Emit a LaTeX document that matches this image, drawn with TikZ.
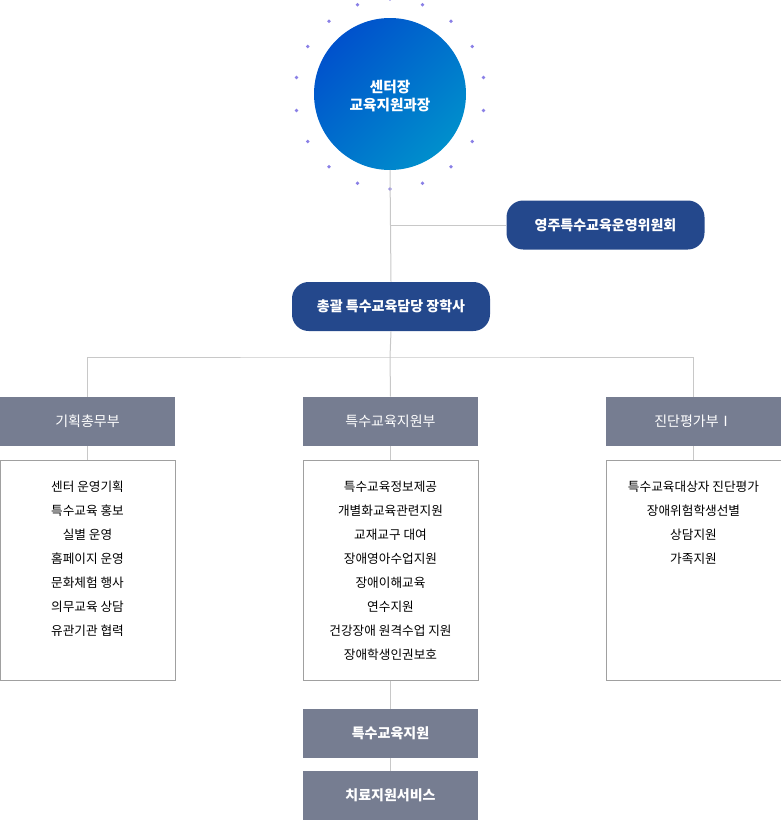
\documentclass[tikz,border=0pt]{standalone}
\usepackage{fontspec}
\setmainfont{Noto Sans CJK KR}
\usetikzlibrary{positioning}
\definecolor{pillblue}{HTML}{24488C}
\definecolor{headgray}{HTML}{767D91}
\definecolor{linegray}{HTML}{C8C8C8}
\definecolor{dotviolet}{HTML}{8A80E6}
\tikzset{
  pill/.style={fill=pillblue, text=white, rounded corners=12.5pt, minimum height=36.75pt, font=\bfseries\fontsize{10.5}{12}\selectfont},
  headbox/.style={fill=headgray, text=white, minimum width=131.25pt, minimum height=36.75pt, font=\fontsize{10.5}{12}\selectfont},
  listbox/.style={draw=linegray!80!black, minimum width=131.25pt, minimum height=165pt, anchor=north, align=center, text depth=0pt},
  listline/.style={font=\fontsize{9.5}{18}\selectfont},
  link/.style={draw=linegray, line width=0.75pt}
}
\begin{document}
\begin{tikzpicture}[x=0.75pt,y=-0.75pt]
\useasboundingbox (0,0) rectangle (781,821);

% center circle
\shade[left color=blue!60!cyan!80!black, right color=cyan!70!blue!80!black, shading angle=45] (390,94) circle (57pt);
\node[text=white, align=center, font=\bfseries\fontsize{11}{14}\selectfont] (chief) at (390,96) {센터장\\교육지원과장};
\foreach \a in {0,20,...,340}
  \fill[dotviolet] ({390+95*cos(\a+90)},{94+95*sin(\a+90)}) circle (1.4pt);
\coordinate (ctop) at (390,170);

% pills
\node[pill, minimum width=148.5pt] (council) at (605.5,225) {영주특수교육운영위원회};
\node[pill, minimum width=148.5pt] (super) at (391,306.5) {총괄 특수교육담당 장학사};
\coordinate (cbranch) at (390,225);

% headers
\node[headbox] (genaff) at (87.5,421.5) {기획총무부};
\node[headbox] (support) at (390.5,421.5) {특수교육지원부};
\node[headbox] (diag) at (693.5,421.5) {진단평가부Ⅰ};

% lists
\node[listbox] (genlist) at (87.5,460) {};
\node[listbox] (suplist) at (390.5,460) {};
\node[listbox] (diaglist) at (693.5,460) {};
\foreach \t [count=\i] in {센터 운영기획, 특수교육 홍보, 실별 운영, 홈페이지 운영, 문화체험 행사, 의무교육 상담, 유관기관 협력}
  \node[listline] at (87.5,463+24*\i) {\t};
\foreach \t [count=\i] in {특수교육정보제공, 개별화교육관련지원, 교재교구 대여, 장애영아수업지원, 장애이해교육, 연수지원, 건강장애 원격수업 지원, 장애학생인권보호}
  \node[listline] at (390.5,463+24*\i) {\t};
\foreach \t [count=\i] in {특수교육대상자 진단평가, 장애위험학생선별, 상담지원, 가족지원}
  \node[listline] at (693.5,463+24*\i) {\t};

% bottom boxes
\node[headbox] (spedu) at (390.5,733.5) {\bfseries 특수교육지원};
\node[headbox] (therapy) at (390.5,795.5) {\bfseries 치료지원서비스};

% connectors
\draw[link] (ctop) -- (super.north);
\draw[link] (cbranch) -- (council.west);
\draw[link] (super.south) -- (390,357) coordinate (hbar);
\draw[link] (genaff.north) |- (hbar) -| (diag.north);
\draw[link] (hbar) -- (support.north);
\draw[link] (genaff.south) -- (genlist.north);
\draw[link] (support.south) -- (suplist.north);
\draw[link] (diag.south) -- (diaglist.north);
\draw[link] (suplist.south) -- (spedu.north);
\draw[link] (spedu.south) -- (therapy.north);
\end{tikzpicture}
\end{document}
